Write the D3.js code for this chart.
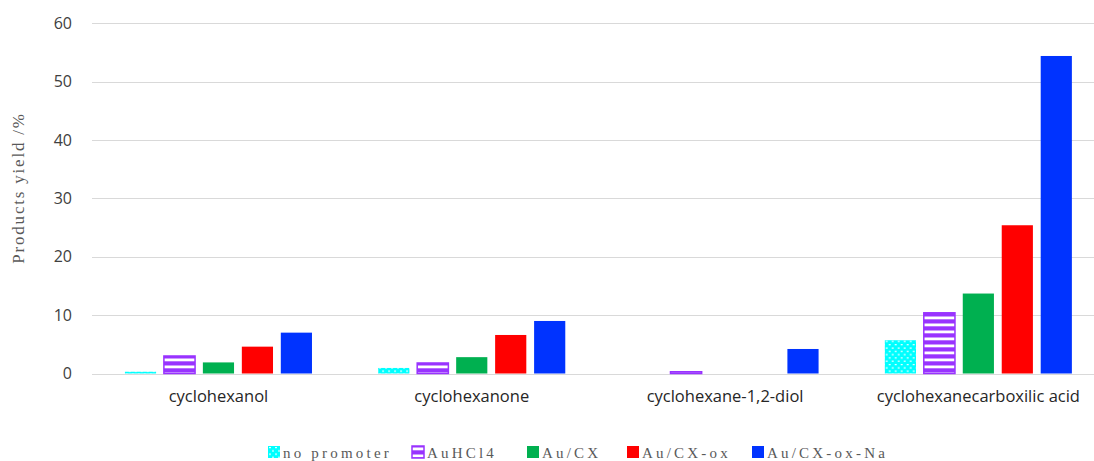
<!DOCTYPE html>
<html>
<head>
<meta charset="utf-8">
<script src="https://cdn.jsdelivr.net/npm/d3@7"></script>
<style>
  body { margin: 0; background: #fff; }
  svg { display: block; }
</style>
</head>
<body>
<svg id="chart" width="1094" height="461"></svg>
<script>
// data
var categories = ["cyclohexanol", "cyclohexanone", "cyclohexane-1,2-diol", "cyclohexanecarboxilic acid"];
var series = ["no promoter", "AuHCl4", "Au/CX", "Au/CX-ox", "Au/CX-ox-Na"];
var noPromoter = [0.3, 0.95, 0, 5.7];
var auHCl4 = [3.0, 1.8, 0.3, 10.4];
var auCX = [1.9, 2.8, 0, 13.7];
var auCXox = [4.6, 6.6, 0, 25.4];
var auCXoxNa = [7.0, 9.0, 4.2, 54.4];
var yTicks = [0, 10, 20, 30, 40, 50, 60];

var values = [noPromoter, auHCl4, auCX, auCXox, auCXoxNa];
var colors = ["#00FFFF", "#9933FF", "#00B050", "#FF0000", "#0033FF"];
var fills = ["url(#dots)", "url(#stripes)", colors[2], colors[3], colors[4]];

var svg = d3.select("#chart");
var defs = svg.append("defs");

// cyan confetti pattern
var p1 = defs.append("pattern").attr("id", "dots").attr("patternUnits", "userSpaceOnUse")
  .attr("width", 6).attr("height", 6.6);
p1.append("rect").attr("width", 6).attr("height", 6.6).attr("fill", "#00FFFF");
p1.append("rect").attr("x", 1).attr("y", 1).attr("width", 2).attr("height", 1.1).attr("fill", "#fff");
p1.append("rect").attr("x", 4).attr("y", 4.3).attr("width", 2).attr("height", 1.1).attr("fill", "#fff");

// purple stripes
var p2 = defs.append("pattern").attr("id", "stripes").attr("patternUnits", "userSpaceOnUse")
  .attr("width", 8).attr("height", 7);
p2.append("rect").attr("width", 8).attr("height", 7).attr("fill", "#9933FF");
p2.append("rect").attr("y", 1.5).attr("width", 8).attr("height", 2.8).attr("fill", "#fff");

// the plot area runs a little past the right edge of the picture
var plotLeft = 92, plotRight = 1094, plotTop = 23.3, plotBottom = 373.5;
var bandLeft = 91.8, bandRight = 1105;

var y = d3.scaleLinear().domain([0, 60]).range([plotBottom, plotTop]);
var x0 = d3.scaleBand().domain(categories).range([bandLeft, bandRight]).padding(0);
var x1 = d3.scaleBand().domain(series).range([0, x0.bandwidth()])
  .paddingInner(0.2).paddingOuter(0.85);

// gridlines
svg.append("g").selectAll("line").data(yTicks).enter().append("line")
  .attr("x1", plotLeft).attr("x2", plotRight)
  .attr("y1", function(d) { return Math.round(y(d)) + 0.5; })
  .attr("y2", function(d) { return Math.round(y(d)) + 0.5; })
  .style("stroke", "#D9D9D9").style("stroke-width", "1px");

// y axis labels
var yAxis = d3.axisLeft(y).tickValues(yTicks).tickSize(0).tickPadding(0);
var ga = svg.append("g").attr("transform", "translate(72,0)").call(yAxis);
ga.select(".domain").remove();
ga.selectAll("text").style("font-family", "'Open Sans', sans-serif")
  .style("font-size", "16px").style("fill", "#404040");

// bars
var groups = svg.append("g").selectAll("g").data(categories).enter().append("g")
  .attr("transform", function(d) { return "translate(" + x0(d) + ",0)"; });

groups.selectAll("rect")
  .data(function(c, ci) {
    return series.map(function(s, si) { return {s: s, si: si, v: values[si][ci]}; })
      .filter(function(d) { return d.v > 0; });
  })
  .enter().append("rect")
  .attr("x", function(d) { return x1(d.s); })
  .attr("width", x1.bandwidth())
  .attr("y", function(d) { return y(d.v); })
  .attr("height", function(d) { return plotBottom - y(d.v); })
  .style("fill", function(d) { return fills[d.si]; })
  .style("stroke", function(d) { return d.si == 1 ? colors[1] : "none"; })
  .style("stroke-width", "1.5px");

// category axis
var xAxis = d3.axisBottom(x0).tickSize(0).tickPadding(17);
var gx = svg.append("g").attr("transform", "translate(0," + plotBottom + ")").call(xAxis);
gx.select(".domain").remove();
gx.selectAll("text").style("font-family", "'Open Sans', sans-serif")
  .style("font-size", "16.5px").style("fill", "#262626");

// y title
svg.append("text")
  .attr("transform", "translate(24,188) rotate(-90)")
  .attr("text-anchor", "middle")
  .style("font-family", "'Liberation Serif', serif")
  .style("font-size", "17px").style("letter-spacing", "1.8px")
  .style("fill", "#595959")
  .text("Products yield /%");

// legend
var legendX = [268, 412, 527, 627, 752];
var leg = svg.append("g").selectAll("g").data(series).enter().append("g")
  .attr("transform", function(d, i) { return "translate(" + legendX[i] + ",446)"; });
leg.append("rect").attr("width", 12).attr("height", 12)
  .style("fill", function(d, i) { return fills[i]; })
  .style("stroke", function(d, i) { return i == 1 ? colors[1] : "none"; })
  .style("stroke-width", "1.5px");
leg.append("text").attr("x", 15).attr("y", 12)
  .style("font-family", "'Liberation Serif', serif")
  .style("font-size", "15px").style("letter-spacing", "3.2px")
  .style("fill", "#595959")
  .text(function(d) { return d; });
</script>
</body>
</html>
